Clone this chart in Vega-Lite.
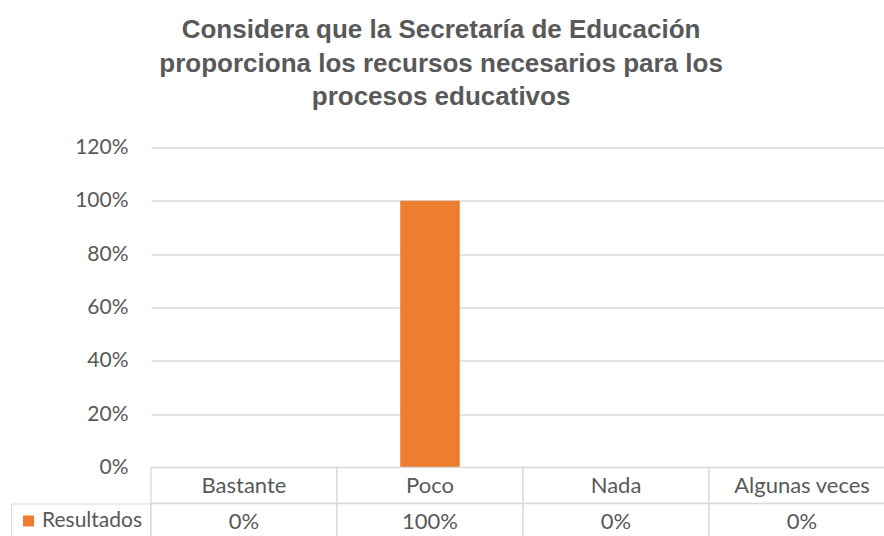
{
  "$schema": "https://vega.github.io/schema/vega-lite/v6.json",
  "padding": {"left": 10, "top": 16.5, "right": 0, "bottom": 0},
  "autosize": {"type": "pad"},
  "background": "white",
  "title": {
    "text": ["Considera que la Secretaría de Educación", "proporciona los recursos necesarios para los", "procesos educativos"],
    "font": "Liberation Sans",
    "fontSize": 26,
    "fontWeight": "bold",
    "color": "#595959",
    "lineHeight": 33.5,
    "anchor": "middle",
    "dx": -12,
    "offset": 26.5
  },
  "datasets": {
    "main": [
      {"categoria": "Bastante", "valor": 0, "serie": "Resultados"},
      {"categoria": "Poco", "valor": 1, "serie": "Resultados"},
      {"categoria": "Nada", "valor": 0, "serie": "Resultados"},
      {"categoria": "Algunas veces", "valor": 0, "serie": "Resultados"}
    ]
  },
  "config": {
    "view": {"stroke": null},
    "font": "Lato"
  },
  "spacing": 0,
  "bounds": "flush",
  "resolve": {"scale": {"color": "independent"}, "legend": {"color": "independent"}},
  "vconcat": [
    {
      "width": 744,
      "height": 320,
      "data": {"name": "main"},
      "mark": {"type": "bar", "color": "#ED7D31", "width": {"band": 0.32}},
      "encoding": {
        "x": {
          "field": "categoria",
          "type": "nominal",
          "sort": ["Bastante", "Poco", "Nada", "Algunas veces"],
          "scale": {"paddingInner": 0, "paddingOuter": 0},
          "axis": null
        },
        "y": {
          "field": "valor",
          "type": "quantitative",
          "scale": {"domain": [0, 1.2], "nice": false},
          "axis": {
            "values": [0, 0.2, 0.4, 0.6, 0.8, 1, 1.2],
            "format": ".0%",
            "title": null,
            "domain": false,
            "ticks": false,
            "labelFont": "Lato",
            "labelFontSize": 21,
            "labelColor": "#595959",
            "labelPadding": 23,
            "gridColor": "#d9d9d9",
            "gridWidth": 1.3
          }
        }
      }
    },
    {
      "width": 744,
      "height": 72,
      "data": {"name": "main"},
      "encoding": {
        "x": {
          "field": "categoria",
          "type": "nominal",
          "sort": ["Bastante", "Poco", "Nada", "Algunas veces"],
          "scale": {"paddingInner": 0, "paddingOuter": 0},
          "axis": null
        }
      },
      "layer": [
        {
          "mark": {"type": "rect", "fill": "white", "stroke": "#d9d9d9", "strokeWidth": 1.3},
          "encoding": {
            "y": {"datum": "cab", "type": "nominal", "scale": {"domain": ["cab", "res"], "paddingInner": 0, "paddingOuter": 0}, "axis": null}
          }
        },
        {
          "mark": {"type": "rect", "fill": "white", "stroke": "#d9d9d9", "strokeWidth": 1.3},
          "encoding": {
            "y": {"datum": "res", "type": "nominal"}
          }
        },
        {
          "mark": {"type": "text", "font": "Lato", "fontSize": 22, "color": "#595959"},
          "encoding": {
            "y": {"datum": "cab", "type": "nominal"},
            "text": {"field": "categoria"}
          }
        },
        {
          "mark": {"type": "text", "font": "Lato", "fontSize": 22, "color": "#595959"},
          "encoding": {
            "y": {"datum": "res", "type": "nominal"},
            "text": {"field": "valor", "format": ".0%"}
          }
        },
        {
          "mark": {"type": "square", "opacity": 0, "size": 121},
          "encoding": {
            "y": {"datum": "res", "type": "nominal"},
            "color": {
              "field": "serie",
              "type": "nominal",
              "scale": {"range": ["#ED7D31"]},
              "legend": {
                "orient": "none",
                "legendX": -140,
                "legendY": 36,
                "title": null,
                "symbolType": "square",
                "symbolSize": 121,
                "symbolOpacity": 1,
                "symbolStrokeWidth": 0,
                "labelFont": "Lato",
                "labelFontSize": 21,
                "labelColor": "#595959",
                "labelOffset": 3,
                "padding": 7,
                "strokeColor": "#d9d9d9"
              }
            }
          }
        }
      ]
    }
  ]
}
